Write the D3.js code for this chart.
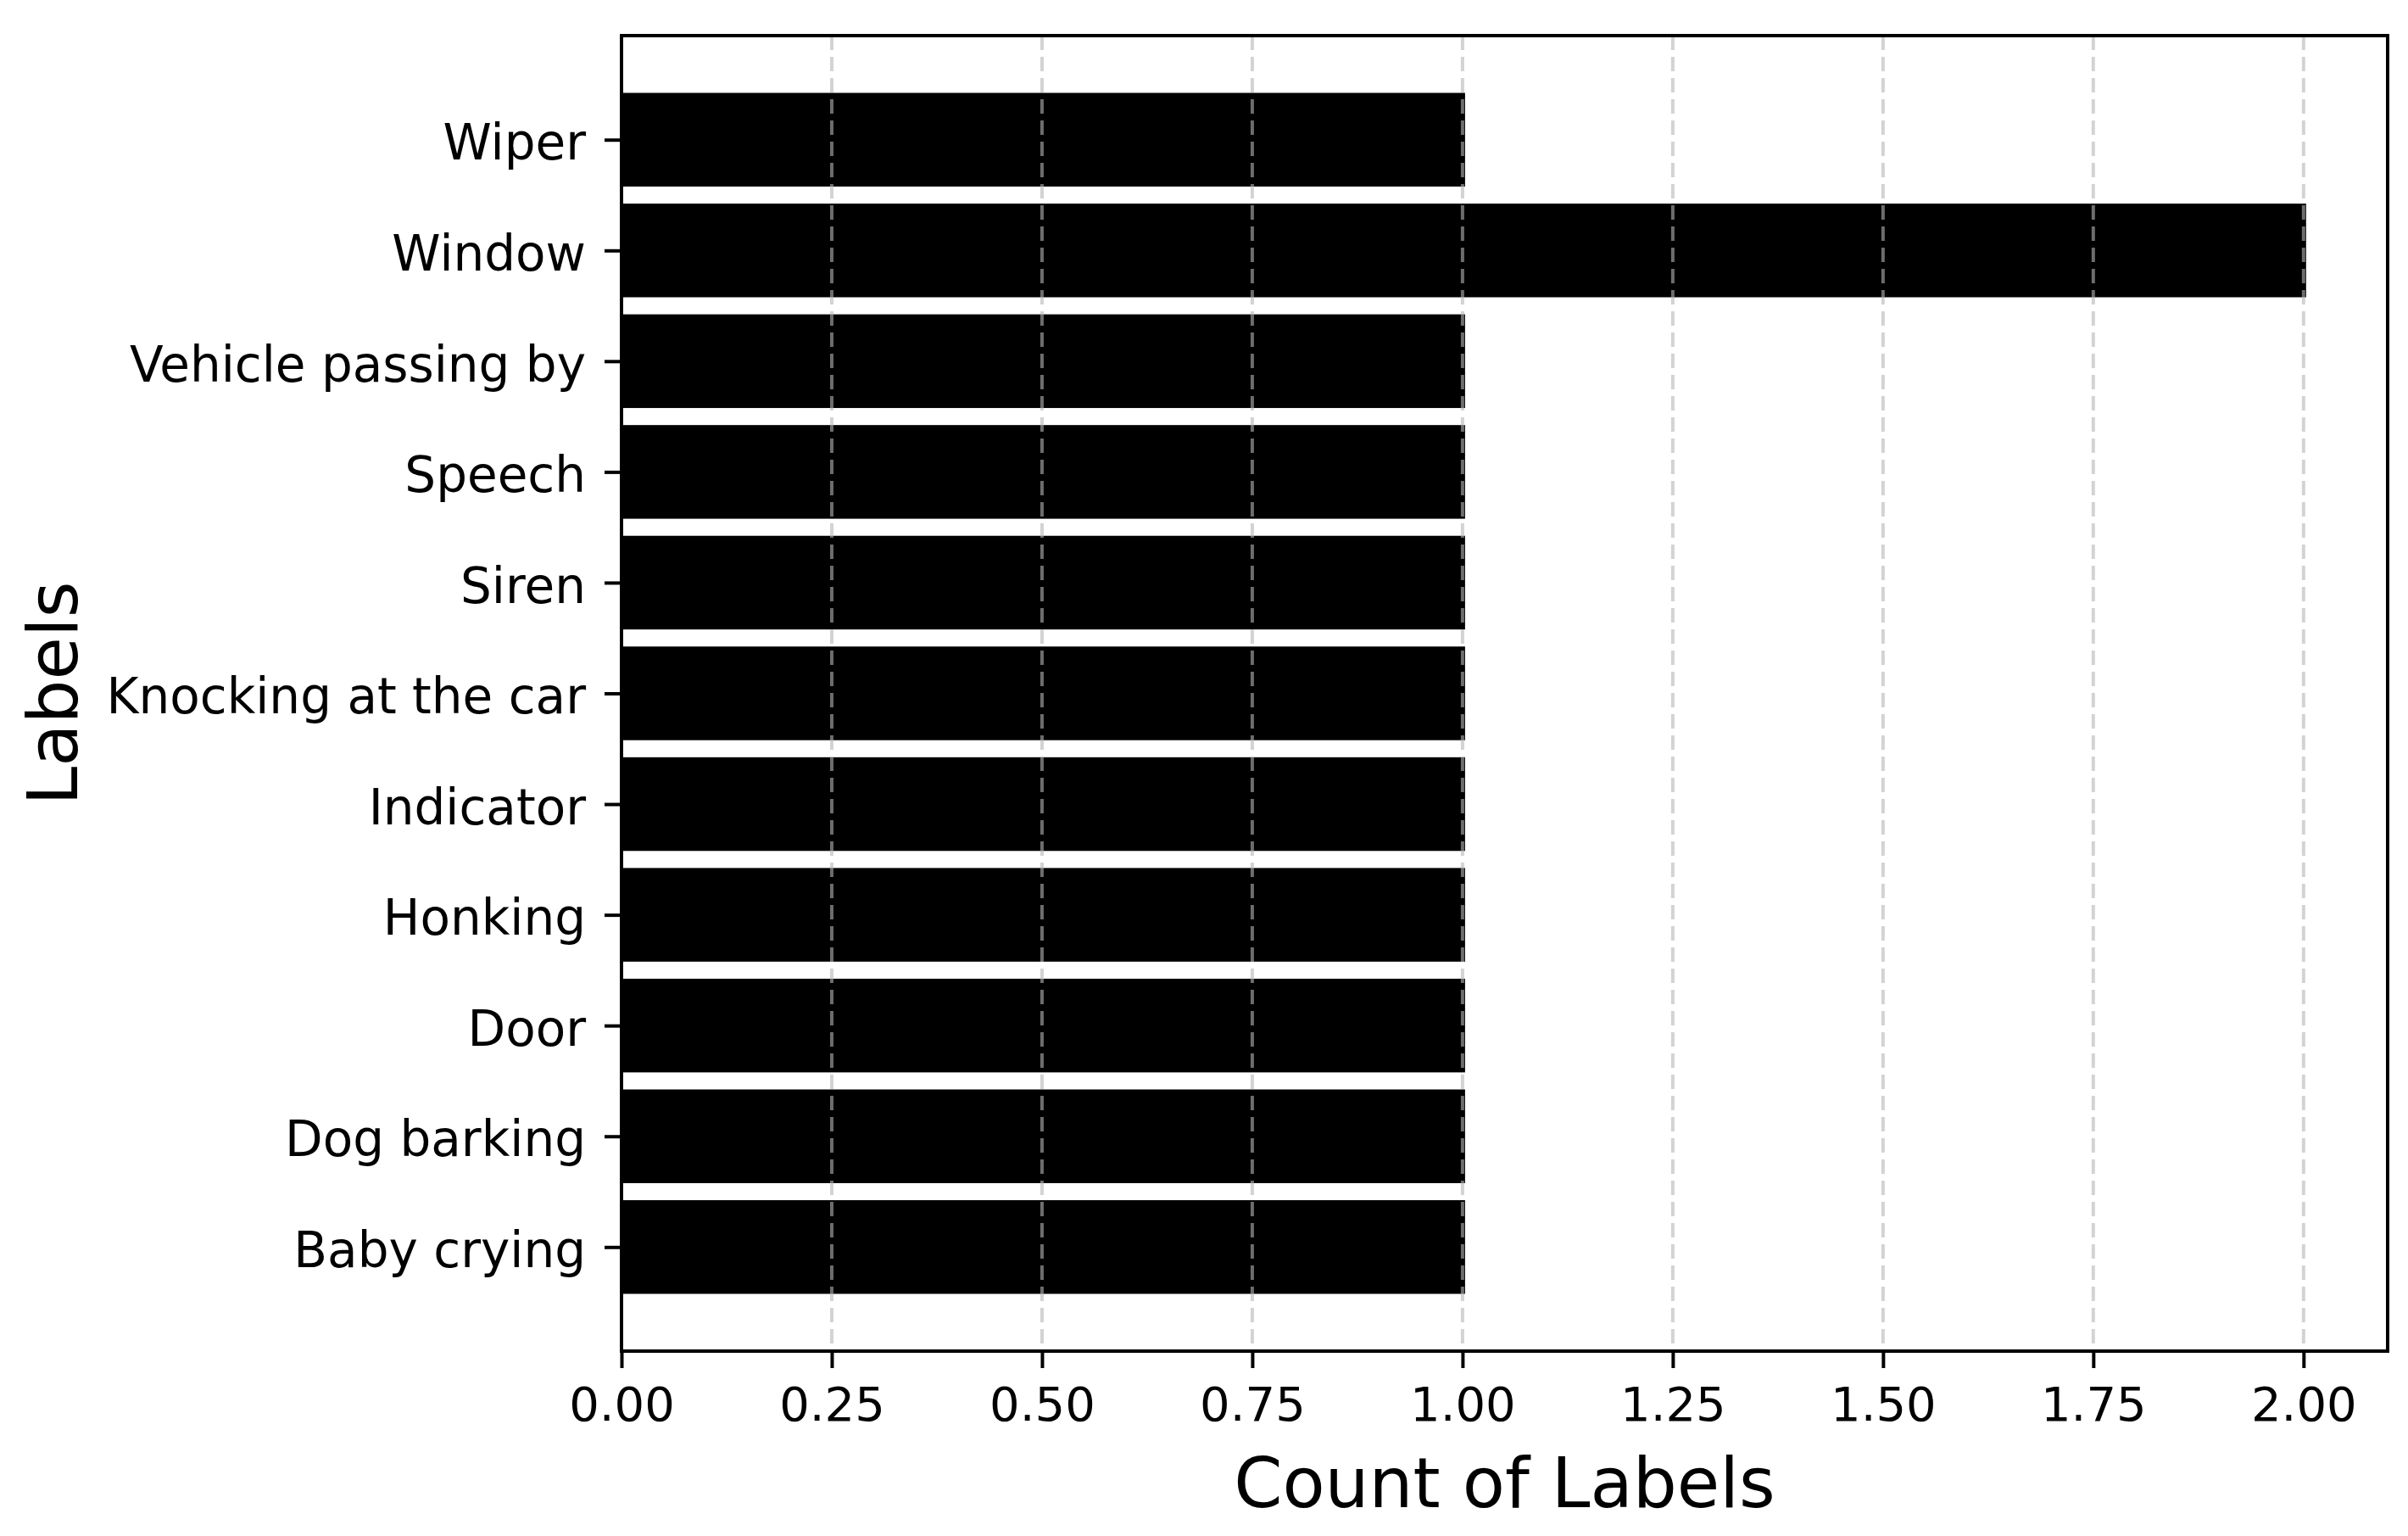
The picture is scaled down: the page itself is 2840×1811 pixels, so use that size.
<!DOCTYPE html>
<html>
<head>
<meta charset="utf-8">
<script src="https://cdn.jsdelivr.net/npm/d3@7"></script>
<style>
  html, body { margin: 0; padding: 0; background: #fff; }
  text { font-family: "DejaVu Sans", sans-serif; fill: #000; }
</style>
</head>
<body>
<svg id="chart" width="2840" height="1811"></svg>
<script>
// Data (bottom to top as plotted)
const categories = ["Baby crying", "Dog barking", "Door", "Honking", "Indicator",
  "Knocking at the car", "Siren", "Speech", "Vehicle passing by", "Window", "Wiper"];
const counts = [1, 1, 1, 1, 1, 1, 1, 1, 1, 2, 1];
const xTicks = [0, 0.25, 0.5, 0.75, 1.0, 1.25, 1.5, 1.75, 2.0];
const xTitle = "Count of Labels";
const yTitle = "Labels";

(function () {
const W = 2840, H = 1811;
const mLeft = 733, mRight = 2816, mTop = 42, mBottom = 1593;
const svg = d3.select("#chart");
svg.append("rect").attr("width", W).attr("height", H).attr("fill", "#fff");

const x = d3.scaleLinear().domain([0, 2.1]).range([mLeft, mRight]);
const barH = 0.8;
const edge = 3;
const y = d3.scaleLinear().domain([-0.94, categories.length - 1 + 0.94]).range([mBottom, mTop]);
const unit = Math.abs(y(1) - y(0));

// Bars (fill plus black edge)
svg.append("g").selectAll("rect").data(categories).join("rect")
  .attr("x", x(0))
  .attr("y", (d, i) => y(i) - unit * barH / 2 - edge)
  .attr("width", (d, i) => x(counts[i]) - x(0) + edge)
  .attr("height", unit * barH + 2 * edge)
  .attr("fill", "#000");

// Vertical dashed grid (on top of bars)
svg.append("g").selectAll("line").data(xTicks).join("line")
  .attr("x1", d => x(d)).attr("x2", d => x(d))
  .attr("y1", mTop).attr("y2", mBottom)
  .attr("stroke", "#b6b6b6")
  .attr("stroke-opacity", 0.6)
  .attr("stroke-width", 4)
  .attr("stroke-dasharray", "17,8");

// X axis
const xAxis = d3.axisBottom(x).tickValues(xTicks).tickFormat(d3.format(".2f"))
  .tickSize(20).tickPadding(22);
const gx = svg.append("g").attr("transform", `translate(0,${mBottom})`).call(xAxis);
gx.select(".domain").remove();
gx.selectAll(".tick line").attr("stroke", "#000").attr("stroke-width", 4);
gx.selectAll(".tick text").attr("font-size", 56).attr("font-family", "DejaVu Sans");

// Y axis
const yAxis = d3.axisLeft(y).tickValues(d3.range(categories.length))
  .tickFormat(i => categories[i]).tickSize(20).tickPadding(22);
const gy = svg.append("g").attr("transform", `translate(${mLeft},0)`).call(yAxis);
gy.select(".domain").remove();
gy.selectAll(".tick line").attr("stroke", "#000").attr("stroke-width", 4);
gy.selectAll(".tick text").attr("font-size", 58).attr("font-family", "DejaVu Sans")
  .attr("dy", "0.4em");

// Frame
svg.append("rect")
  .attr("x", mLeft).attr("y", mTop)
  .attr("width", mRight - mLeft).attr("height", mBottom - mTop)
  .attr("fill", "none").attr("stroke", "#000").attr("stroke-width", 4);

// Axis titles
svg.append("text")
  .attr("x", (mLeft + mRight) / 2).attr("y", 1777)
  .attr("text-anchor", "middle").attr("font-size", 82)
  .text(xTitle);
svg.append("text")
  .attr("transform", `translate(91,${(mTop + mBottom) / 2}) rotate(-90)`)
  .attr("text-anchor", "middle").attr("font-size", 82)
  .text(yTitle);
})();
</script>
</body>
</html>
